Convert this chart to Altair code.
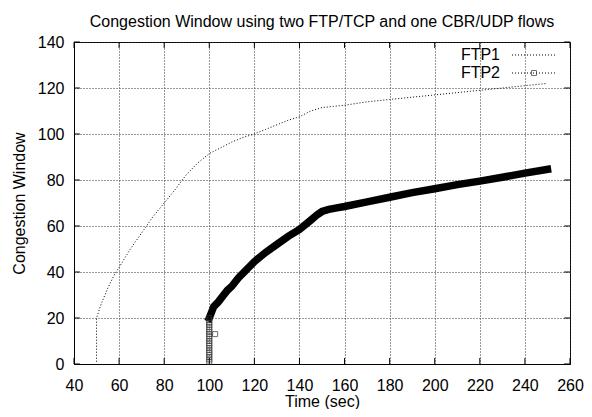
import altair as alt
import pandas as pd

# ---- data ----
ftp1_time = [50, 50, 52, 55, 58, 60, 65, 70, 75, 80, 85, 88, 90, 95, 100, 105, 110, 115, 120,
             125, 130, 135, 140, 145, 150, 155, 160, 170, 180, 190, 200, 210, 220, 230, 240, 250]
ftp1_cwnd = [1, 20, 26, 33, 39, 42, 50, 57, 64, 70, 76, 80, 82.5, 87.5, 91.5, 94, 96.5, 98.5, 100,
             102, 104, 106, 107.5, 110, 111.5, 112, 112.5, 114, 115, 116, 117, 118, 119, 120, 121, 122]

ftp2_time = [100, 101, 102, 104, 106, 108, 110, 113, 116, 120, 125, 130, 135, 140, 145, 148, 150,
             153, 156, 160, 170, 180, 190, 200, 210, 220, 230, 240, 250]
ftp2_cwnd = [20, 22.5, 25, 27, 29.5, 32, 33.8, 37.5, 40.5, 44.5, 48.5, 52, 55.5, 58.5, 62.5, 65, 66.3,
             67.2, 67.8, 68.5, 70.5, 72.5, 74.5, 76.2, 78, 79.5, 81.2, 83, 84.6]

# slow-start samples of FTP2 stacked at t = 100
ftp2_start_time = [100, 100, 100, 100, 100, 100, 100, 100, 100, 100,
                   100, 100, 100, 100, 100, 100, 100, 100, 100, 100, 102.6]
ftp2_start_cwnd = [1, 2, 3, 4, 5, 6, 7, 8, 9, 10, 11, 12, 13, 14, 15, 16, 17, 18, 19, 20, 13]

x_ticks = [40, 60, 80, 100, 120, 140, 160, 180, 200, 220, 240, 260]
y_ticks = [0, 20, 40, 60, 80, 100, 120, 140]

FONT = "Liberation Sans"
FS = 16

df1 = pd.DataFrame({"t": ftp1_time, "cw": ftp1_cwnd, "i": range(len(ftp1_time))})
df2 = pd.DataFrame({"t": ftp2_time, "cw": ftp2_cwnd, "i": range(len(ftp2_time))})
df2s = pd.DataFrame({"t": ftp2_start_time, "cw": ftp2_start_cwnd})

xscale = alt.Scale(domain=[40, 260], nice=False)
yscale = alt.Scale(domain=[0, 140], nice=False)

common = dict(grid=True, gridDash=[1, 2], gridColor="#333", ticks=False, domainColor="black",
              labelFont=FONT, titleFont=FONT, labelFontSize=FS, titleFontSize=FS,
              titleFontWeight="normal", labelColor="black", titleColor="black",
              labelFlush=False, labelOverlap=False)

x_enc = alt.X("t:Q", scale=xscale, title="Time (sec)",
              axis=alt.Axis(values=x_ticks, labelPadding=13, titleY=37,
                            titleBaseline="middle", **common))
y_enc = alt.Y("cw:Q", scale=yscale, title="Congestion Window",
              axis=alt.Axis(values=y_ticks, labelPadding=10, titleX=-55, titleY=161,
                            titleBaseline="middle", **common))

ftp1 = alt.Chart(df1).mark_line(color="black", strokeWidth=1, strokeDash=[1, 2]).encode(
    x=x_enc, y=y_enc, order="i:Q")

ftp2 = alt.Chart(df2).mark_line(color="black", strokeWidth=7.5, strokeCap="square").encode(
    x=alt.X("t:Q", scale=xscale), y=alt.Y("cw:Q", scale=yscale), order="i:Q")

ftp2_pts = alt.Chart(df2s).mark_point(shape="square", size=25, filled=False, color="#333",
                                      strokeWidth=1).encode(
    x=alt.X("t:Q", scale=xscale), y=alt.Y("cw:Q", scale=yscale))

# inward tick marks (gnuplot style), in data units
tx = pd.DataFrame({"t": x_ticks})
ty = pd.DataFrame({"cw": y_ticks})
tick_bottom = alt.Chart(tx).mark_rule(color="black").encode(
    x=alt.X("t:Q", scale=xscale), y=alt.datum(0), y2=alt.datum(2.6))
tick_top = alt.Chart(tx).mark_rule(color="black").encode(
    x=alt.X("t:Q", scale=xscale), y=alt.datum(140), y2=alt.datum(137.4))
tick_left = alt.Chart(ty).mark_rule(color="black").encode(
    y=alt.Y("cw:Q", scale=yscale), x=alt.datum(40), x2=alt.datum(42.6))
tick_right = alt.Chart(ty).mark_rule(color="black").encode(
    y=alt.Y("cw:Q", scale=yscale), x=alt.datum(260), x2=alt.datum(257.4))

# legend (top right, gnuplot style: label then sample)
leg_text = alt.Chart(pd.DataFrame({"name": ["FTP1", "FTP2"], "yy": [13, 31]})).mark_text(
    align="right", baseline="middle", font=FONT, fontSize=FS, color="black").encode(
    x=alt.value(426), y=alt.Y("yy:Q", scale=None), text="name:N")
leg_line1 = alt.Chart(pd.DataFrame({"a": [0]})).mark_rule(
    color="black", strokeDash=[1, 2], strokeWidth=1).encode(
    x=alt.value(438), x2=alt.value(481), y=alt.value(13))
leg_line2 = alt.Chart(pd.DataFrame({"a": [0]})).mark_rule(
    color="black", strokeDash=[1, 2], strokeWidth=1).encode(
    x=alt.value(438), x2=alt.value(481), y=alt.value(31))
leg_sq = alt.Chart(pd.DataFrame({"a": [0]})).mark_point(
    shape="square", size=25, filled=False, color="#333", strokeWidth=1).encode(
    x=alt.value(460), y=alt.value(31))

chart = alt.layer(
    ftp1, ftp2, ftp2_pts, tick_bottom, tick_top, tick_left, tick_right,
    leg_text, leg_line1, leg_line2, leg_sq
).properties(
    width=496, height=322,
    background="white",
    title=alt.Title("Congestion Window using two FTP/TCP and one CBR/UDP flows",
                    font=FONT, fontSize=FS, fontWeight="normal", anchor="middle", offset=4,
                    color="black"),
    autosize=alt.AutoSizeParams(type="none"),
    padding={"left": 66, "top": 34, "right": 14, "bottom": 45},
).configure_view(stroke="black", strokeWidth=1)

chart.save("out.html", embed_options={"renderer": "svg", "actions": False})
